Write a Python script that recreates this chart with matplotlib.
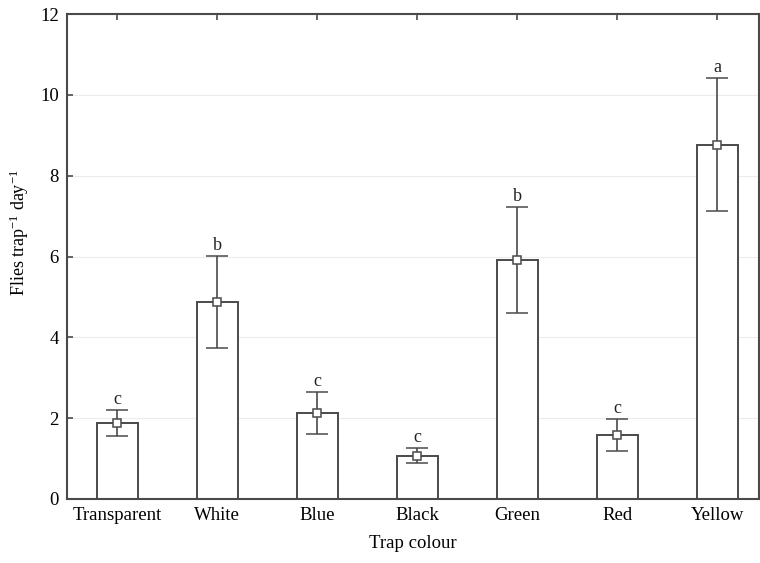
import matplotlib
matplotlib.use("Agg")
import matplotlib.pyplot as plt

categories = ["Transparent", "White", "Blue", "Black", "Green", "Red", "Yellow"]
means = [1.87, 4.88, 2.13, 1.07, 5.92, 1.59, 8.77]
errors = [0.32, 1.14, 0.51, 0.18, 1.31, 0.40, 1.64]
letters = ["c", "b", "c", "c", "b", "c", "a"]
yticks = [0, 2, 4, 6, 8, 10, 12]

plt.rcParams['font.family'] = ['Liberation Serif', 'DejaVu Serif']
plt.rcParams['mathtext.fontset'] = 'custom'
plt.rcParams['mathtext.rm'] = 'Liberation Serif'
plt.rcParams['mathtext.it'] = 'Liberation Serif:italic'

fig = plt.figure(figsize=(7.6, 5.63), dpi=100)
ax = fig.add_axes([0.0882, 0.1137, 0.9105, 0.8614])

edge = '#4a4a4a'
x = list(range(len(categories)))
ax.bar(x, means, width=0.41, color='white', edgecolor=edge, linewidth=1.4, zorder=2)
ax.errorbar(x, means, yerr=errors, fmt='s', color=edge, ecolor=edge,
            elinewidth=1.2, capsize=8, capthick=1.2, markersize=6,
            markerfacecolor='white', markeredgecolor=edge, markeredgewidth=1.1,
            zorder=3)
for xi, m, e, l in zip(x, means, errors, letters):
    ax.text(xi, m + e + 0.05, l, ha='center', va='bottom', fontsize=13, color='#222222')

ax.set_xlim(-0.5, 6.42)
ax.set_ylim(0, 12)
ax.set_yticks(yticks)
ax.set_xticks(x)
ax.set_xticklabels(categories)
ax.yaxis.grid(True, color='#ececec', linewidth=0.8, zorder=0)
ax.set_axisbelow(True)
ax.tick_params(axis='both', direction='in', length=4, width=1.2, color=edge,
               labelsize=13.5, top=True, right=False, pad=6)
for s in ax.spines.values():
    s.set_color(edge)
    s.set_linewidth(1.5)
ax.set_xlabel("Trap colour", fontsize=13.5, labelpad=8)
ax.set_ylabel("Flies trap$^{\\mathregular{-1}}$ day$^{\\mathregular{-1}}$", fontsize=13)
ax.yaxis.set_label_coords(-0.052, 0.55)

fig.savefig("out.png", dpi=100)
